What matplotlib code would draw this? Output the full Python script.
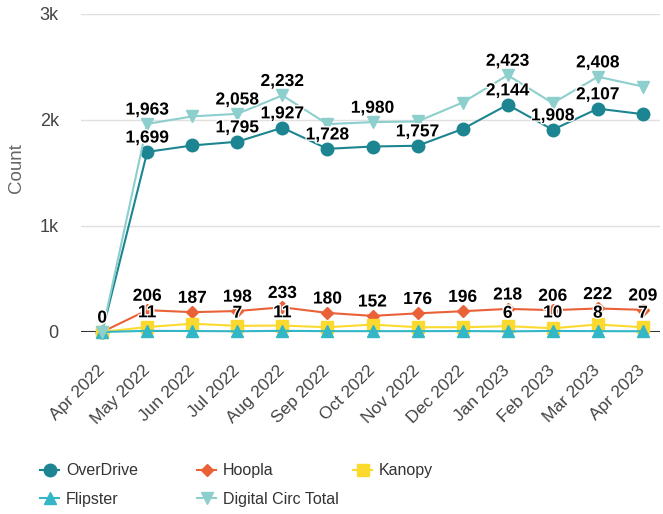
import matplotlib
matplotlib.use("Agg")
import matplotlib.pyplot as plt
import matplotlib.patheffects as pe
from matplotlib.ticker import FuncFormatter

months = ["Apr 2022", "May 2022", "Jun 2022", "Jul 2022", "Aug 2022", "Sep 2022",
          "Oct 2022", "Nov 2022", "Dec 2022", "Jan 2023", "Feb 2023", "Mar 2023", "Apr 2023"]
overdrive = [0, 1699, 1760, 1795, 1927, 1728, 1750, 1757, 1915, 2144, 1908, 2107, 2055]
hoopla = [0, 206, 187, 198, 233, 180, 152, 176, 196, 218, 206, 222, 209]
kanopy = [0, 47, 78, 58, 61, 45, 70, 45, 45, 55, 35, 71, 45]
flipster = [0, 11, 9, 7, 11, 8, 8, 8, 9, 6, 10, 8, 7]
total = [o + h + k + f for o, h, k, f in zip(overdrive, hoopla, kanopy, flipster)]
total[0] = 0

# which points carry a value label (the rest were hidden to avoid overlap)
lab_overdrive = [1, 3, 4, 5, 7, 9, 10, 11]
lab_total = [1, 3, 4, 6, 9, 11]
lab_hoopla = list(range(0, 13))
lab_flipster = [1, 3, 4, 9, 10, 11, 12]

plt.rcParams['font.family'] = ['Liberation Sans', 'DejaVu Sans']

fig = plt.figure(figsize=(6.63, 5.14), dpi=100)
ax = fig.add_axes([81 / 663, 1 - 332 / 514, (660 - 81) / 663, (332 - 14) / 514])

x = list(range(len(months)))
series = [
    ("OverDrive", overdrive, "#1c8591", "o", 9),
    ("Hoopla", hoopla, "#ea6138", "D", 6.5),
    ("Kanopy", kanopy, "#fbd92e", "s", 8.5),
    ("Flipster", flipster, "#33b6c6", "^", 9),
    ("Digital Circ Total", total, "#8dcfcc", "v", 9),
]
handles = {}
for name, vals, col, mk, ms in series:
    h, = ax.plot(x, vals, color=col, marker=mk, markersize=ms, linewidth=1.5,
                 label=name, clip_on=False, zorder=3)
    handles[name] = h

halo = [pe.withStroke(linewidth=2, foreground="white")]

def put_labels(vals, idx, dy):
    for i in idx:
        ax.annotate(f"{vals[i]:,}", (i, vals[i]), xytext=(0, dy), textcoords="offset points",
                    ha="center", va="center", fontsize=12.5, fontweight="bold",
                    color="black", zorder=5, path_effects=halo)

put_labels(overdrive, lab_overdrive, 10)
put_labels(total, lab_total, 10)
put_labels(hoopla, lab_hoopla, 10)
put_labels(flipster, lab_flipster, 13)

ax.set_xlim(-0.47, 12.38)
ax.set_ylim(0, 3000)
ax.set_yticks([0, 1000, 2000, 3000])
ax.yaxis.set_major_formatter(FuncFormatter(lambda v, p: "0" if v == 0 else f"{int(v / 1000)}k"))
ax.grid(axis="y", color="#e0e0e0", linewidth=1)
ax.axhline(0, color="#333333", linewidth=1.5, zorder=2)
for s in ax.spines.values():
    s.set_visible(False)
ax.tick_params(axis="both", length=0, labelcolor="#444444")
ax.tick_params(axis="y", pad=16, labelsize=13)
ax.tick_params(axis="x", pad=26, labelsize=12.5)
ax.set_xticks(x)
ax.set_xticklabels(months, rotation=45, ha="right", va="center", rotation_mode="anchor")
ax.set_ylabel("Count", fontsize=13.5, color="#666666")
ax.yaxis.set_label_coords(-56 / 579, 0.515)

# legend laid out as fixed-width columns, filled row by row
columns = [["OverDrive", "Flipster"], ["Hoopla", "Digital Circ Total"], ["Kanopy"]]
col_x = [34, 191, 347]
for names, cx in zip(columns, col_x):
    fig.legend([handles[n] for n in names], names, loc="upper left",
               bbox_to_anchor=(cx / 663, 1 - 457 / 514), frameon=False,
               fontsize=11.5, handlelength=1.15, handletextpad=0.45,
               labelspacing=0.85, labelcolor="#333333", borderaxespad=0)

fig.savefig("out.png", dpi=100)
